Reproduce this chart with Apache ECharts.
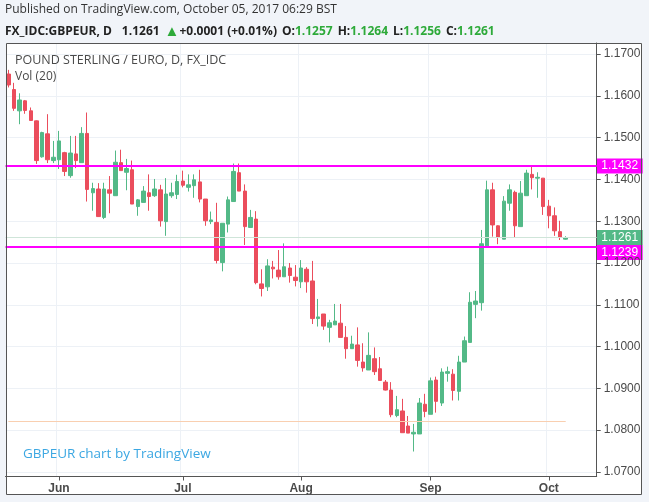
<!DOCTYPE html>
<html><head><meta charset="utf-8">
<script src="https://cdn.jsdelivr.net/npm/echarts@6/dist/echarts.min.js"></script>
<style>html,body{margin:0;padding:0;background:#f1f4f9;}#c{width:649px;height:502px;}</style>
</head><body><div id="c"></div>
<script>
const dates = [
'2017-05-19','2017-05-22','2017-05-23','2017-05-24','2017-05-25','2017-05-26','2017-05-29','2017-05-30','2017-05-31',
'2017-06-01','2017-06-02','2017-06-05','2017-06-06','2017-06-07','2017-06-08','2017-06-09','2017-06-12','2017-06-13','2017-06-14','2017-06-15','2017-06-16','2017-06-19','2017-06-20','2017-06-21','2017-06-22','2017-06-23','2017-06-26','2017-06-27','2017-06-28','2017-06-29','2017-06-30',
'2017-07-03','2017-07-04','2017-07-05','2017-07-06','2017-07-07','2017-07-10','2017-07-11','2017-07-12','2017-07-13','2017-07-14','2017-07-17','2017-07-18','2017-07-19','2017-07-20','2017-07-21','2017-07-24','2017-07-25','2017-07-26','2017-07-27','2017-07-28','2017-07-31',
'2017-08-01','2017-08-02','2017-08-03','2017-08-04','2017-08-07','2017-08-08','2017-08-09','2017-08-10','2017-08-11','2017-08-14','2017-08-15','2017-08-16','2017-08-17','2017-08-18','2017-08-21','2017-08-22','2017-08-23','2017-08-24','2017-08-25','2017-08-28','2017-08-29','2017-08-30','2017-08-31',
'2017-09-01','2017-09-04','2017-09-05','2017-09-06','2017-09-07','2017-09-08','2017-09-11','2017-09-12','2017-09-13','2017-09-14','2017-09-15','2017-09-18','2017-09-19','2017-09-20','2017-09-21','2017-09-22','2017-09-25','2017-09-26','2017-09-27','2017-09-28','2017-09-29',
'2017-10-02','2017-10-03','2017-10-04','2017-10-05'];
const padSlots = ['pad1','pad2','pad3','pad4','pad5'];

const opens = [
1.1652,1.1615,1.1564,1.1588,1.1564,1.1540,1.1454,1.1509,1.1445,
1.1447,1.1464,1.1409,1.1461,1.1440,1.1510,1.1368,1.1377,1.1309,1.1375,1.1361,1.1440,1.1417,1.1423,1.1335,1.1345,1.1368,1.1361,1.1375,1.1299,1.1361,1.1364,
1.1396,1.1381,1.1385,1.1394,1.1353,1.1299,1.1297,1.1201,1.1293,1.1347,1.1416,1.1372,1.1285,1.1305,1.1150,1.1143,1.1190,1.1183,1.1167,1.1188,1.1166,
1.1155,1.1185,1.1157,1.1067,1.1078,1.1046,1.1052,1.1056,1.1022,1.0995,1.1004,1.0963,1.0944,1.0971,1.0947,1.0915,1.0896,1.0835,1.0846,1.0810,1.0791,1.0791,1.0862,
1.0838,1.0920,1.0865,1.0936,1.0934,1.0893,1.0963,1.1010,1.1101,1.1105,1.1241,1.1375,1.1289,1.1257,1.1343,1.1369,1.1287,1.1361,1.1412,1.1403,1.1403,
1.1336,1.1313,1.1275,1.1257];
const highs = [
1.1662,1.1631,1.1606,1.1590,1.1572,1.1541,1.1514,1.1556,1.1492,
1.1516,1.1466,1.1504,1.1504,1.1525,1.1560,1.1392,1.1391,1.1392,1.1408,1.1469,1.1471,1.1449,1.1445,1.1353,1.1384,1.1412,1.1401,1.1387,1.1403,1.1392,1.1411,
1.1421,1.1412,1.1412,1.1423,1.1353,1.1323,1.1344,1.1295,1.1359,1.1438,1.1438,1.1388,1.1327,1.1324,1.1185,1.1209,1.1205,1.1231,1.1247,1.1200,1.1195,
1.1207,1.1190,1.1205,1.1114,1.1078,1.1064,1.1102,1.1102,1.1049,1.1026,1.1046,1.1008,1.1034,1.0998,1.0975,1.0920,1.0915,1.0882,1.0875,1.0834,1.0815,1.0877,1.0887,
1.0926,1.0928,1.0948,1.0952,1.0946,1.0978,1.1024,1.1130,1.1133,1.1279,1.1397,1.1392,1.1290,1.1360,1.1388,1.1373,1.1396,1.1423,1.1432,1.1417,1.1403,
1.1351,1.1333,1.1301,1.1264];
const lows = [
1.1620,1.1564,1.1532,1.1557,1.1540,1.1437,1.1452,1.1439,1.1439,
1.1425,1.1408,1.1404,1.1427,1.1440,1.1347,1.1325,1.1310,1.1305,1.1319,1.1361,1.1421,1.1374,1.1341,1.1313,1.1345,1.1325,1.1358,1.1287,1.1265,1.1356,1.1353,
1.1381,1.1371,1.1356,1.1345,1.1289,1.1293,1.1199,1.1180,1.1273,1.1347,1.1372,1.1243,1.1285,1.1149,1.1120,1.1133,1.1163,1.1160,1.1167,1.1153,1.1144,
1.1140,1.1129,1.1054,1.1048,1.1040,1.1010,1.1052,1.1022,1.0971,1.0995,1.0952,1.0940,1.0944,1.0932,1.0919,1.0895,1.0831,1.0831,1.0794,1.0793,1.0749,1.0791,1.0831,
1.0838,1.0842,1.0858,1.0916,1.0871,1.0871,1.0963,1.1010,1.1068,1.1086,1.1238,1.1263,1.1245,1.1257,1.1325,1.1261,1.1287,1.1361,1.1376,1.1356,1.1315,
1.1283,1.1265,1.1255,1.1256];
const closes = [
1.1626,1.1570,1.1590,1.1565,1.1541,1.1445,1.1512,1.1447,1.1453,
1.1492,1.1419,1.1463,1.1445,1.1510,1.1376,1.1378,1.1311,1.1377,1.1367,1.1441,1.1421,1.1426,1.1341,1.1351,1.1372,1.1359,1.1377,1.1301,1.1365,1.1368,1.1395,
1.1386,1.1387,1.1399,1.1353,1.1301,1.1303,1.1206,1.1295,1.1351,1.1419,1.1372,1.1287,1.1309,1.1153,1.1139,1.1193,1.1186,1.1167,1.1191,1.1170,1.1158,
1.1188,1.1155,1.1067,1.1071,1.1049,1.1057,1.1061,1.1022,1.0995,1.1006,1.0967,1.0949,1.0979,1.0940,1.0919,1.0896,1.0837,1.0849,1.0794,1.0793,1.0795,1.0865,1.0845,
1.0918,1.0869,1.0939,1.0940,1.0895,1.0963,1.1014,1.1106,1.1109,1.1246,1.1375,1.1291,1.1262,1.1348,1.1375,1.1289,1.1367,1.1415,1.1404,1.1405,1.1335,
1.1313,1.1277,1.1262,1.1261];

const monthStarts = ['2017-06-01','2017-07-03','2017-08-01','2017-09-01','2017-10-02'];
const monthLabels = ['Jun','Jul','Aug','Sep','Oct'];
const resistance = 1.1432, support = 1.1239, lastPrice = 1.1261, lowLevel = 1.0822;
const yMin = 1.06892, yMax = 1.17263;

const UP = '#53b987', DOWN = '#eb4d5c', MAG = '#ff00ff';
const categories = dates.concat(padSlots);
const candles = dates.map((d, i) => [opens[i], closes[i], lows[i], highs[i]]);
const isMonth = (idx, val) => monthStarts.indexOf(val) >= 0;

const chart = echarts.init(document.getElementById('c'), null, {renderer: 'canvas'});
const option = {
  animation: false,
  backgroundColor: '#f1f4f9',
  textStyle: {fontFamily: 'Liberation Sans, Arial, sans-serif'},
  title: [
    {text: 'Published on TradingView.com, October 05, 2017 06:29 BST', left: 5, top: 4, padding: 0,
     textStyle: {fontFamily: 'Open Sans', fontSize: 12, fontWeight: 'normal', color: '#333'}},
    {text: '{b|FX_IDC:GBPEUR, D}  {n|1.1261} {g|▲}{n|+0.0001 (+0.01%)} {b|O:}{v|1.1257} {b|H:}{v|1.1264} {b|L:}{v|1.1256} {b|C:}{v|1.1261}',
     left: 5, top: 23, padding: 0,
     textStyle: {rich: {
       b: {fontFamily: 'Open Sans', fontSize: 12, fontWeight: 'bold', color: '#222'},
       n: {fontFamily: 'Open Sans', fontSize: 12, color: '#222'},
       g: {fontFamily: 'Open Sans', fontSize: 15, color: '#2eaa3a'},
       v: {fontFamily: 'Open Sans', fontSize: 12, color: '#2eaa3a'}
     }}},
    {text: 'POUND STERLING / EURO, D, FX_IDC', left: 15, top: 54, padding: 0,
     textStyle: {fontFamily: 'Open Sans', fontSize: 12.5, fontWeight: 'normal', color: '#4a4a4a'}},
    {text: 'Vol (20)', left: 15, top: 71, padding: 0,
     textStyle: {fontFamily: 'Open Sans', fontSize: 12, fontWeight: 'normal', color: '#4a4a4a'}},
    {text: 'GBPEUR chart by TradingView', left: 23, top: 447, padding: 0,
     textStyle: {fontFamily: 'Open Sans', fontSize: 13.5, fontWeight: 'normal', color: '#3ba7e2'}}
  ],
  grid: {left: 5.5, right: 52.3, top: 43, bottom: 25.5, show: false},
  xAxis: {
    type: 'category', data: categories, boundaryGap: true,
    axisLine: {show: true, lineStyle: {color: '#555', width: 1}},
    axisTick: {show: true, interval: isMonth, alignWithLabel: true, length: 4, lineStyle: {color: '#555'}},
    axisLabel: {interval: isMonth, margin: 6, fontSize: 12, fontWeight: 'bold', color: '#4a4a4a',
      formatter: v => { const i = monthStarts.indexOf(v); return i >= 0 ? monthLabels[i] : ''; }},
    splitLine: {show: true, interval: isMonth, lineStyle: {color: '#edf1f6', width: 1}}
  },
  yAxis: {
    type: 'value', position: 'right', min: yMin, max: yMax, splitNumber: 10, scale: true,
    axisLine: {show: true, lineStyle: {color: '#555', width: 1}},
    axisTick: {show: true, length: 4, lineStyle: {color: '#555'}},
    axisLabel: {margin: 7, fontSize: 12, color: '#4a4a4a', showMinLabel: false, showMaxLabel: false,
      formatter: v => v.toFixed(4)},
    splitLine: {show: true, lineStyle: {color: '#edf1f6', width: 1}}
  },
  series: [{
    type: 'candlestick', data: candles, barWidth: 4, clip: true,
    itemStyle: {color: UP, color0: DOWN, borderColor: UP, borderColor0: DOWN, borderWidth: 1},
    markLine: {
      silent: true, symbol: 'none', animation: false, precision: 4, label: {show: false},
      data: [
        [{coord: [dates[0], lowLevel]}, {coord: [dates[dates.length - 1], lowLevel]}],
        {yAxis: lastPrice, lineStyle: {color: '#cfe5d9', width: 1, type: 'solid'}},
        {yAxis: resistance, lineStyle: {color: MAG, width: 2, type: 'solid'}},
        {yAxis: support, lineStyle: {color: MAG, width: 2, type: 'solid'}}
      ],
      lineStyle: {color: '#f9cfb0', width: 1, type: 'solid'}
    }
  }]
};
chart.setOption(option);

// frame and price-level tags, positioned from the axis scale
const axisRight = 649 - 52.3;
const yRes = chart.convertToPixel({yAxisIndex: 0}, resistance);
const yLast = chart.convertToPixel({yAxisIndex: 0}, lastPrice);
let ySup = chart.convertToPixel({yAxisIndex: 0}, support);
const tagH = 15;
if (ySup - yLast < tagH) ySup = yLast + tagH;
function tag(y, txt, col) {
  return {type: 'group', z: 100, children: [
    {type: 'rect', shape: {x: axisRight, y: y - tagH / 2, width: 46, height: tagH}, style: {fill: col}},
    {type: 'text', x: axisRight + 23, y: y, style: {text: txt, fill: '#fff', fontSize: 12,
      fontFamily: 'Liberation Sans, Arial, sans-serif', align: 'center', verticalAlign: 'middle'}}
  ]};
}
chart.setOption({graphic: [
  {type: 'rect', z: -10, silent: true, shape: {x: 6, y: 43, width: 636, height: 451}, style: {fill: '#ffffff', stroke: null}},
  {type: 'rect', z: 50, silent: true, shape: {x: 6.5, y: 43.5, width: 635, height: 451}, style: {fill: null, stroke: '#555', lineWidth: 1}},
  tag(yRes, resistance.toFixed(4), MAG),
  tag(ySup, support.toFixed(4), MAG),
  tag(yLast, lastPrice.toFixed(4), UP)
]});
</script></body></html>
